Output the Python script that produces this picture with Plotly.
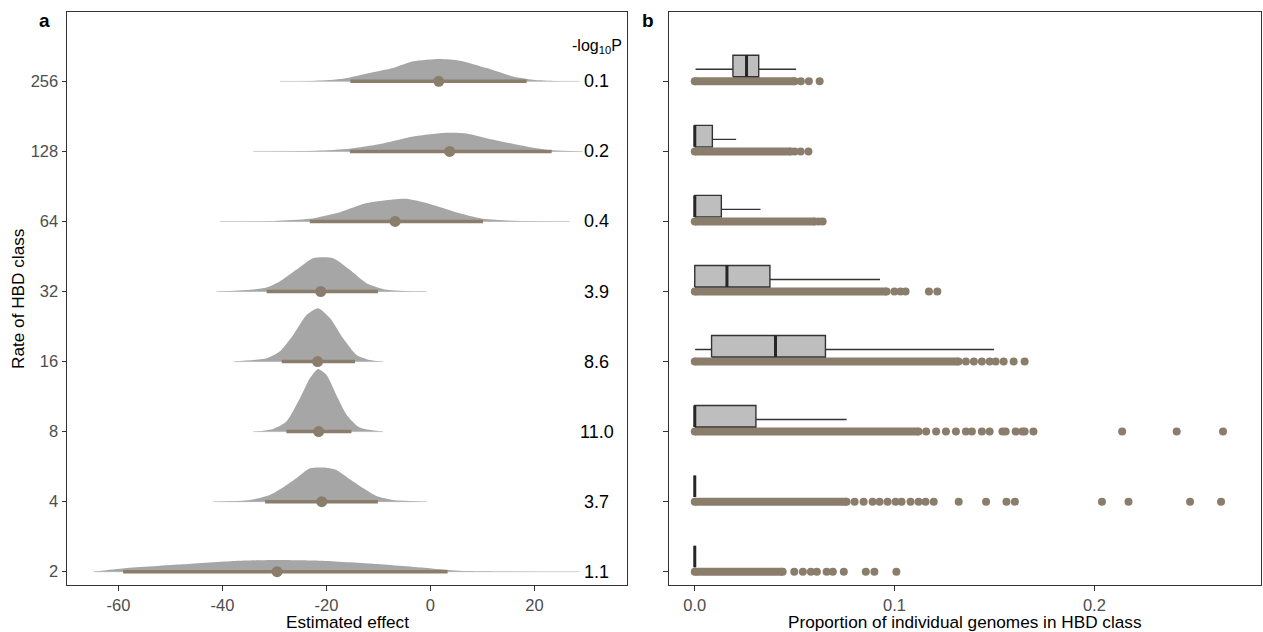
import plotly.graph_objects as go

# ---------------- data ----------------
categories = ["2", "4", "8", "16", "32", "64", "128", "256"]
neglog10p = ["1.1", "3.7", "11.0", "8.6", "3.9", "0.4", "0.2", "0.1"]

# panel a: posterior estimates
point_est = [-29.5, -20.9, -21.5, -21.7, -21.1, -6.8, 3.7, 1.6]
ci_low = [-59.1, -31.8, -27.7, -28.6, -31.5, -23.2, -15.5, -15.4]
ci_high = [3.3, -10.1, -15.2, -14.5, -10.1, 10.1, 23.3, 18.5]

# density outlines (x = effect, h = slab height in category units)
density_x = [
    [-64.8, -58.8, -47.6, -37.6, -30.3, -21.1, -11.1, -1.2, 5.4, 15.0, 28.6],
    [-41.8, -34.7, -30.9, -28.3, -25.8, -23.2, -20.6, -18.1, -15.5, -12.9, -10.4, -7.2, -0.75],
    [-34.1, -30.2, -27.7, -25.1, -23.2, -21.6, -20.0, -18.1, -16.1, -13.6, -9.1],
    [-37.9, -31.5, -29.0, -26.4, -23.8, -21.6, -19.3, -16.8, -14.2, -11.7, -9.1],
    [-41.1, -34.7, -31.5, -29.0, -25.8, -22.6, -18.7, -15.5, -12.3, -8.4, -0.75],
    [-40.5, -30.0, -23.2, -17.4, -12.3, -7.2, -4.6, -0.75, 4.4, 10.1, 16.0, 26.8],
    [-34.1, -22.0, -15.5, -9.7, -3.3, 3.1, 6.9, 12.1, 18.5, 23.0, 29.3],
    [-28.9, -22.0, -16.8, -11.7, -7.2, -3.3, 1.8, 5.7, 10.8, 15.9, 19.7, 24.0, 28.7],
]
density_h = [
    [0.0, 0.048, 0.105, 0.152, 0.167, 0.157, 0.114, 0.057, 0.014, 0.003, 0.0],
    [0.0, 0.024, 0.095, 0.205, 0.333, 0.476, 0.486, 0.452, 0.319, 0.19, 0.081, 0.024, 0.0],
    [0.0, 0.038, 0.143, 0.476, 0.762, 0.895, 0.81, 0.524, 0.238, 0.057, 0.0],
    [0.0, 0.048, 0.143, 0.381, 0.667, 0.762, 0.619, 0.333, 0.095, 0.024, 0.0],
    [0.0, 0.024, 0.057, 0.143, 0.31, 0.476, 0.476, 0.31, 0.119, 0.024, 0.0],
    [0.0, 0.008, 0.038, 0.133, 0.262, 0.314, 0.324, 0.262, 0.143, 0.038, 0.01, 0.0],
    [0.0, 0.01, 0.038, 0.105, 0.214, 0.267, 0.257, 0.167, 0.071, 0.019, 0.0],
    [0.0, 0.01, 0.038, 0.119, 0.19, 0.286, 0.319, 0.295, 0.19, 0.071, 0.024, 0.005, 0.0],
]

# panel b: box statistics of proportion of genome in HBD class
box_lower = [0.0, 0.0, 0.0, 0.0002, 0.0, 0.0, 0.0, 0.0004]
box_q1 = [0.0, 0.0, 0.0, 0.0084, 0.0, 0.0, 0.0, 0.0191]
box_median = [0.0, 0.0, 0.0, 0.0404, 0.0161, 0.0, 0.0, 0.0259]
box_q3 = [0.0, 0.0, 0.0306, 0.0654, 0.0376, 0.0133, 0.0088, 0.0320]
box_upper = [0.0, 0.0, 0.0760, 0.1498, 0.0927, 0.0329, 0.0207, 0.0507]

# extent of the continuous band of individual points, then the scattered ones
dense_end = [0.044, 0.076, 0.112, 0.132, 0.096, 0.060, 0.048, 0.050]
sparse_points = [
    [0.0498, 0.0541, 0.0581, 0.0611, 0.0660, 0.0691, 0.0746, 0.0856, 0.0899, 0.1009],
    [0.0800, 0.0845, 0.0890, 0.0925, 0.0965, 0.1005, 0.1035, 0.1080, 0.1120, 0.1155,
     0.1196, 0.1321, 0.1458, 0.1560, 0.1602, 0.2038, 0.2171, 0.2479, 0.2634],
    [0.1158, 0.1208, 0.1257, 0.1307, 0.1357, 0.1387, 0.1437, 0.1476, 0.1540, 0.1556,
     0.1606, 0.1640, 0.1651, 0.1695, 0.2139, 0.2412, 0.2644],
    [0.1357, 0.1397, 0.1437, 0.1476, 0.1506, 0.1546, 0.1596, 0.1651],
    [0.0999, 0.1030, 0.1055, 0.1172, 0.1214],
    [0.0620, 0.0640],
    [0.0500, 0.0530, 0.0569],
    [0.0531, 0.0571, 0.0625],
]

x_ticks_a = [-60, -40, -20, 0, 20]
x_ticklabels_a = ["-60", "-40", "-20", "0", "20"]
x_ticks_b = [0, 0.1, 0.2]
x_ticklabels_b = ["0.0", "0.1", "0.2"]

# ---------------- style ----------------
FONT = "Liberation Sans, Arial, sans-serif"
SLAB = "#A6A6A6"
BROWN = "#8B7D6B"
BOXFILL = "#BEBEBE"
DARK = "#333333"
TICKGREY = "#4D4D4D"
FS_TITLE = 17.2
FS_TICK = 16.5

fig = go.Figure()

# ---------------- panel a ----------------
for i, cat in enumerate(categories):
    xs = density_x[i]
    hs = density_h[i]
    fig.add_trace(go.Scatter(x=[xs[0], xs[-1]], y=[i, i], mode="lines",
                             line=dict(color="#D0D0D0", width=1),
                             xaxis="x", yaxis="y", hoverinfo="skip", showlegend=False))
    fig.add_trace(go.Scatter(x=xs, y=[i] * len(xs), mode="lines",
                             line=dict(width=0, color="rgba(0,0,0,0)"),
                             xaxis="x", yaxis="y", hoverinfo="skip", showlegend=False))
    fig.add_trace(go.Scatter(x=xs, y=[i + h for h in hs], mode="lines",
                             line=dict(width=0, color="rgba(0,0,0,0)", shape="spline", smoothing=0.6),
                             fill="tonexty", fillcolor=SLAB,
                             xaxis="x", yaxis="y", hoverinfo="skip", showlegend=False))

for i, cat in enumerate(categories):
    fig.add_trace(go.Scatter(x=[ci_low[i], ci_high[i]], y=[i, i], mode="lines",
                             line=dict(color=BROWN, width=3.5),
                             xaxis="x", yaxis="y", hoverinfo="skip", showlegend=False))
fig.add_trace(go.Scatter(x=point_est, y=list(range(len(categories))), mode="markers",
                         marker=dict(color=BROWN, size=11, line=dict(width=0)),
                         xaxis="x", yaxis="y", showlegend=False))

annotations = []
for i, p in enumerate(neglog10p):
    annotations.append(dict(x=32.0, y=i, xref="x", yref="y", text=p, showarrow=False,
                            font=dict(family=FONT, size=18, color="black"),
                            xanchor="center", yanchor="middle"))
annotations.append(dict(x=32.0, y=7.5, xref="x", yref="y", text="-log<sub>10</sub>P",
                        showarrow=False, font=dict(family=FONT, size=16, color="black"),
                        xanchor="center", yanchor="middle"))

# ---------------- panel b ----------------
B0, B1, WY = 0.065, 0.372, 0.172
for i, cat in enumerate(categories):
    fig.add_trace(go.Scatter(x=[0.0, dense_end[i]], y=[i, i], mode="lines+markers",
                             line=dict(color=BROWN, width=8),
                             marker=dict(color=BROWN, size=8, line=dict(width=0)),
                             xaxis="x2", yaxis="y2", hoverinfo="skip", showlegend=False))
    fig.add_trace(go.Scatter(x=sparse_points[i], y=[i] * len(sparse_points[i]), mode="markers",
                             marker=dict(color=BROWN, size=8, line=dict(width=0)),
                             xaxis="x2", yaxis="y2", showlegend=False))

for i, cat in enumerate(categories):
    wx, wy = [], []
    if box_q1[i] - box_lower[i] > 0:
        wx += [box_lower[i], box_q1[i], None]
        wy += [i + WY, i + WY, None]
    if box_upper[i] - box_q3[i] > 0:
        wx += [box_q3[i], box_upper[i], None]
        wy += [i + WY, i + WY, None]
    if wx:
        fig.add_trace(go.Scatter(x=wx, y=wy, mode="lines", line=dict(color=DARK, width=1.4),
                                 xaxis="x2", yaxis="y2", hoverinfo="skip", showlegend=False))
    q1, q3 = box_q1[i], box_q3[i]
    fig.add_trace(go.Scatter(x=[q1, q3, q3, q1, q1], y=[i + B0, i + B0, i + B1, i + B1, i + B0],
                             mode="lines", fill="toself", fillcolor=BOXFILL,
                             line=dict(color=DARK, width=1.4),
                             xaxis="x2", yaxis="y2", hoverinfo="skip", showlegend=False))
    fig.add_trace(go.Scatter(x=[box_median[i], box_median[i]], y=[i + B0, i + B1], mode="lines",
                             line=dict(color="#262626", width=3),
                             xaxis="x2", yaxis="y2", hoverinfo="skip", showlegend=False))

# ---------------- titles / labels ----------------
annotations += [
    dict(x=347 / 1263, y=1 - 622 / 632, xref="paper", yref="paper", text="Estimated effect",
         showarrow=False, font=dict(family=FONT, size=FS_TITLE, color="black"),
         xanchor="center", yanchor="middle"),
    dict(x=965 / 1263, y=1 - 622 / 632, xref="paper", yref="paper",
         text="Proportion of individual genomes in HBD class",
         showarrow=False, font=dict(family=FONT, size=FS_TITLE, color="black"),
         xanchor="center", yanchor="middle"),
    dict(x=18 / 1263, y=1 - 299 / 632, xref="paper", yref="paper", text="Rate of HBD class",
         textangle=-90, showarrow=False, font=dict(family=FONT, size=FS_TITLE, color="black"),
         xanchor="center", yanchor="middle"),
    dict(x=44 / 1263, y=1 - 21 / 632, xref="paper", yref="paper", text="<b>a</b>",
         showarrow=False, font=dict(family=FONT, size=19, color="black"),
         xanchor="center", yanchor="middle"),
    dict(x=648 / 1263, y=1 - 21 / 632, xref="paper", yref="paper", text="<b>b</b>",
         showarrow=False, font=dict(family=FONT, size=19, color="black"),
         xanchor="center", yanchor="middle"),
]

axis_common = dict(showgrid=False, zeroline=False, showline=True, mirror=True,
                   linecolor=DARK, linewidth=1, ticks="outside", ticklen=4.5,
                   tickcolor=DARK, tickwidth=1,
                   tickfont=dict(family=FONT, size=FS_TICK, color=TICKGREY))

YDOM = [1 - 585.3 / 632, 1 - 12.3 / 632]
YRANGE = [-0.194, 7.986]

fig.update_layout(
    width=1263, height=632, autosize=False,
    margin=dict(l=0, r=0, t=0, b=0),
    paper_bgcolor="white", plot_bgcolor="white",
    font=dict(family=FONT),
    showlegend=False,
    xaxis=dict(domain=[67 / 1263, 627 / 1263], range=[-69.9, 37.8],
               tickvals=x_ticks_a, ticktext=x_ticklabels_a, anchor="y", **axis_common),
    yaxis=dict(domain=YDOM, range=YRANGE, tickvals=list(range(len(categories))),
               ticktext=categories, anchor="x", **axis_common),
    xaxis2=dict(domain=[668.6 / 1263, 1261 / 1263], range=[-0.0131, 0.2834],
                tickvals=x_ticks_b, ticktext=x_ticklabels_b, anchor="y2",
                **axis_common),
    yaxis2=dict(domain=YDOM, range=YRANGE, tickvals=list(range(len(categories))),
                showticklabels=False, anchor="x2", **axis_common),
    annotations=annotations,
)

fig.write_html("out.html")
